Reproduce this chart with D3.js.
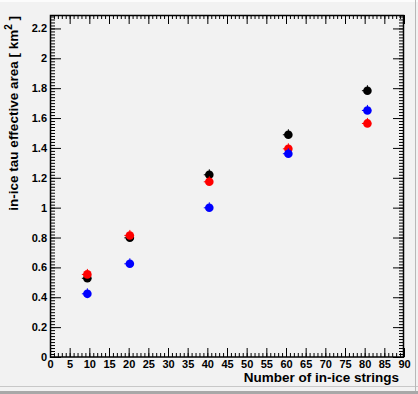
<!DOCTYPE html>
<html>
<head>
<meta charset="utf-8">
<script src="https://cdn.jsdelivr.net/npm/d3@7"></script>
<style>
  body { margin: 0; background: #f2f2f2; }
  text { font-family: "Liberation Sans", Arial, sans-serif; font-weight: bold; }
</style>
</head>
<body>
<div class="chart"></div>
<script>
var svgWidth = 418;
var svgHeight = 394;

// plot frame inside the canvas
var margin = { top: 15, right: 14, bottom: 37, left: 50 };
var width = svgWidth - margin.left - margin.right;
var height = svgHeight - margin.top - margin.bottom;

// data
var strings = [9.5, 20.3, 40.5, 60.6, 80.7];
var blackArea = [0.527, 0.798, 1.220, 1.488, 1.783];
var redArea = [0.553, 0.814, 1.173, 1.394, 1.564];
var blueArea = [0.423, 0.624, 0.999, 1.361, 1.651];

var xTickLabels = [0, 5, 10, 15, 20, 25, 30, 35, 40, 45, 50, 55, 60, 65, 70, 75, 80, 85, 90];
var yTickLabels = [0, 0.2, 0.4, 0.6, 0.8, 1, 1.2, 1.4, 1.6, 1.8, 2, 2.2];

var series = [
  { values: blackArea, color: "#000000" },
  { values: redArea, color: "#ff0000" },
  { values: blueArea, color: "#0000ff" }
];

var svg = d3.select(".chart")
  .append("svg")
  .attr("width", svgWidth)
  .attr("height", svgHeight)
  .style("display", "block");

// canvas background + bevel
svg.append("rect")
  .attr("width", svgWidth).attr("height", svgHeight)
  .attr("fill", "#f2f2f2");
svg.append("rect").attr("x", 0).attr("y", 0).attr("width", svgWidth).attr("height", 2).attr("fill", "#fcfcfc");
svg.append("rect").attr("x", 0).attr("y", 386).attr("width", svgWidth).attr("height", 1).attr("fill", "#c8c8c8");
svg.append("rect").attr("x", 0).attr("y", 391).attr("width", svgWidth).attr("height", 3).attr("fill", "#a8a8a8");
svg.append("rect").attr("x", 415).attr("y", 0).attr("width", 1).attr("height", 391).attr("fill", "#b8b8b8");

var chartGroup = svg.append("g")
  .attr("transform", `translate(${margin.left}, ${margin.top})`);

var xScale = d3.scaleLinear().domain([0, 90]).range([0, width]);
var yScale = d3.scaleLinear().domain([0, 2.29]).range([height, 0]);

var xMinor = d3.range(0, 91, 1);
var yMinor = d3.range(0, 2.29, 0.02);

function styleAxis(g) {
  g.select(".domain").remove();
  g.selectAll("line").attr("stroke", "#000").attr("stroke-width", 1);
  g.selectAll("text").attr("fill", "#000").style("font-size", "11px");
}

// bottom
chartGroup.append("g").attr("transform", `translate(0, ${height})`)
  .call(d3.axisBottom(xScale).tickValues(xMinor).tickFormat("").tickSizeInner(-4).tickSizeOuter(0))
  .call(styleAxis);
chartGroup.append("g").attr("transform", `translate(0, ${height})`)
  .call(d3.axisBottom(xScale).tickValues(xTickLabels).tickFormat(d3.format("d")).tickSizeInner(-9).tickSizeOuter(0).tickPadding(3))
  .call(styleAxis);
// top
chartGroup.append("g")
  .call(d3.axisTop(xScale).tickValues(xMinor).tickFormat("").tickSizeInner(-4).tickSizeOuter(0))
  .call(styleAxis);
chartGroup.append("g")
  .call(d3.axisTop(xScale).tickValues(xTickLabels).tickFormat("").tickSizeInner(-9).tickSizeOuter(0))
  .call(styleAxis);
// left
chartGroup.append("g")
  .call(d3.axisLeft(yScale).tickValues(yMinor).tickFormat("").tickSizeInner(-5).tickSizeOuter(0))
  .call(styleAxis);
chartGroup.append("g")
  .call(d3.axisLeft(yScale).tickValues(yTickLabels).tickFormat(d => String(+d.toFixed(1))).tickSizeInner(-11).tickSizeOuter(0).tickPadding(3))
  .call(styleAxis);
// right
chartGroup.append("g").attr("transform", `translate(${width}, 0)`)
  .call(d3.axisRight(yScale).tickValues(yMinor).tickFormat("").tickSizeInner(-5).tickSizeOuter(0))
  .call(styleAxis);
chartGroup.append("g").attr("transform", `translate(${width}, 0)`)
  .call(d3.axisRight(yScale).tickValues(yTickLabels).tickFormat("").tickSizeInner(-11).tickSizeOuter(0))
  .call(styleAxis);

// frame
chartGroup.append("rect")
  .attr("x", 0.5).attr("y", 0.5)
  .attr("width", width - 1).attr("height", height - 0.5)
  .attr("fill", "none").attr("stroke", "#000").attr("stroke-width", 1.5);

// points (with the small error-bar stubs)
series.forEach(function(s) {
  var g = chartGroup.append("g");
  s.values.forEach(function(v, i) {
    var cx = xScale(strings[i]);
    var cy = yScale(v);
    g.append("line").attr("x1", cx - 5.5).attr("x2", cx).attr("y1", cy).attr("y2", cy)
      .attr("stroke", s.color).attr("stroke-width", 1);
    g.append("line").attr("x1", cx).attr("x2", cx).attr("y1", cy - 5.5).attr("y2", cy)
      .attr("stroke", s.color).attr("stroke-width", 1);
    g.append("circle").attr("cx", cx).attr("cy", cy).attr("r", 4.3).attr("fill", s.color);
  });
});

// axis titles
svg.append("text")
  .attr("x", 399).attr("y", 382)
  .attr("text-anchor", "end")
  .style("font-size", "13.5px")
  .text("Number of in-ice strings");

var yTitle = svg.append("text")
  .attr("transform", "translate(18, 16) rotate(-90)")
  .attr("text-anchor", "end")
  .style("font-size", "13.5px");
yTitle.append("tspan").text("in-ice tau effective area [ km");
yTitle.append("tspan").attr("dy", -6).style("font-size", "10px").text("2");
yTitle.append("tspan").attr("dy", 6).text(" ]");
</script>
</body>
</html>
